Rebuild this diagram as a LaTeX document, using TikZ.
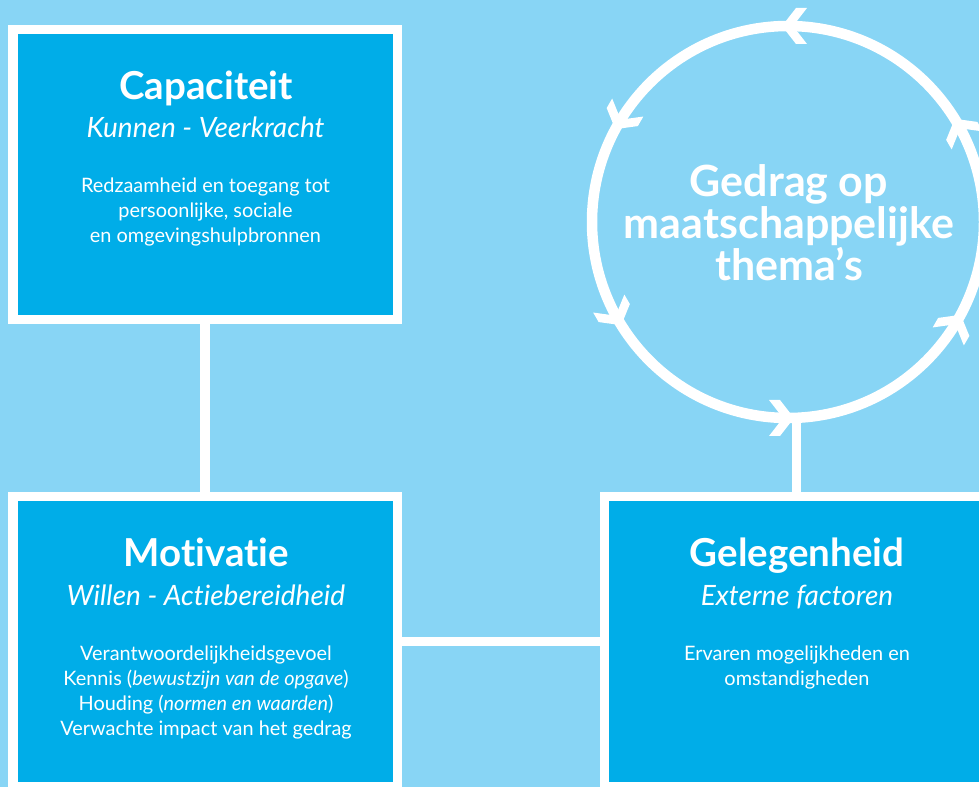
\documentclass[tikz,border=0pt]{standalone}
\usepackage{fontspec}
\setmainfont{Lato}[Ligatures=NoCommon]
\definecolor{bgblue}{HTML}{88D5F5}
\definecolor{boxblue}{HTML}{00ADE8}
\begin{document}
\begin{tikzpicture}[x=1pt,y=1pt,
  box/.style={draw=white, line width=9.5pt, fill=boxblue, minimum width=384.5pt, minimum height=290pt, inner sep=0pt},
  link/.style={draw=white, line width=9.5pt},
  ttl/.style={anchor=base, inner sep=0pt, text=white, font=\bfseries\fontsize{38.5}{38.5}\selectfont},
  sub/.style={anchor=base, inner sep=0pt, text=white, font=\itshape\fontsize{28}{28}\selectfont},
  bod/.style={anchor=base, inner sep=0pt, text=white, font=\fontsize{19.9}{19.9}\selectfont},
  big/.style={anchor=base, inner sep=0pt, text=white, font=\bfseries\fontsize{43}{43}\selectfont},
  chev/.style={fill=white}
]
\clip (0,0) rectangle (979,787);
\fill[bgblue] (0,0) rectangle (979,787);

% boxes
\node[box] (cap) at (205,612.5) {};
\node[box] (mot) at (205,145.5) {};
\node[box] (gel) at (796.5,145.5) {};

% circle
\node[circle, draw=white, line width=10.5pt, minimum size=392pt, inner sep=0pt] (circ) at (788,565) {};
\foreach \a in {30,90,150,210,270,330}{
  \fill[chev, shift={(788,565)}, rotate=\a] (196,6) -- (214,-8) -- (214,-19) -- (196,-5) -- (178,-19) -- (178,-8) -- cycle;
}

% connectors
\draw[link] (cap.south) -- (mot.north);
\draw[link] (mot.east) -- (gel.west);
\draw[link] (gel.north) -- (gel.north |- circ.south);

% Capaciteit
\node[ttl] (capT) at (206,687) {Capaciteit};
\node[sub] (capS) at (205.5,649) {Kunnen - Veerkracht};
\node[bod] (capB1) at (205.5,594) {Redzaamheid en toegang tot};
\node[bod] (capB2) at (205.5,569) {persoonlijke, sociale};
\node[bod] (capB3) at (205.5,544) {en omgevingshulpbronnen};

% Motivatie
\node[ttl] (motT) at (206.5,220) {Motivatie};
\node[sub] (motS) at (206,181) {Willen - Actiebereidheid};
\node[bod] (motB1) at (206,127) {Verantwoordelijkheidsgevoel};
\node[bod] (motB2) at (206,102) {Kennis (\textit{bewustzijn van de opgave})};
\node[bod] (motB3) at (206,77) {Houding (\textit{normen en waarden})};
\node[bod] (motB4) at (206,52) {Verwachte impact van het gedrag};

% Gelegenheid
\node[ttl] (gelT) at (797,220) {Gelegenheid};
\node[sub] (gelS) at (797,181) {Externe factoren};
\node[bod] (gelB1) at (797,127) {Ervaren mogelijkheden en};
\node[bod] (gelB2) at (797,102) {omstandigheden};

% circle text
\node[big] (c1) at (789,590) {Gedrag op};
\node[big] (c2) at (789,548) {maatschappelijke};
\node[big] (c3) at (789,506) {thema’s};
\end{tikzpicture}
\end{document}
